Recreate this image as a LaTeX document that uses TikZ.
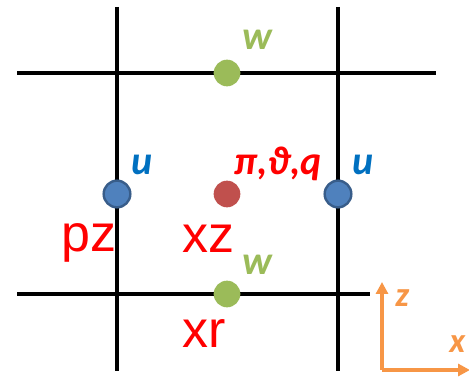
\documentclass[tikz,border=0pt]{standalone}
\usepackage{fontspec}
\setmainfont{Carlito}
\newfontfamily\arialfont{Liberation Sans}
\usetikzlibrary{arrows.meta}
\definecolor{gdot}{HTML}{9BBB59}
\definecolor{bdot}{HTML}{4F81BD}
\definecolor{bdotb}{HTML}{385D8A}
\definecolor{rdot}{HTML}{C0504D}
\definecolor{ulab}{HTML}{0070C0}
\definecolor{rlab}{HTML}{FF0000}
\definecolor{axcol}{HTML}{F79646}
\tikzset{
  grid/.style={line width=3pt, black},
  wdot/.style={circle, fill=gdot, minimum size=20pt, inner sep=0pt},
  udot/.style={circle, fill=bdot, draw=bdotb, line width=1.8pt, minimum size=20pt, inner sep=0pt},
  pdot/.style={circle, fill=rdot, minimum size=20pt, inner sep=0pt},
  varlab/.style={font=\fontsize{30}{32}\selectfont\bfseries\itshape, inner sep=0pt, anchor=base west},
  biglab/.style={font=\arialfont\fontsize{39}{42}\selectfont, text=rlab, inner sep=0pt, anchor=base west},
  axis/.style={line width=2.5pt, axcol, -{Triangle[length=9pt,width=9pt]}},
  axlab/.style={font=\fontsize{26}{28}\selectfont\bfseries\itshape, text=axcol, inner sep=0pt, anchor=base west},
}
\begin{document}
\begin{tikzpicture}[x=0.75pt,y=-0.75pt]
\useasboundingbox (0,0) rectangle (469,377);
% grid line endpoints
\coordinate (v1t) at (117,7);   \coordinate (v1b) at (117,371);
\coordinate (v2t) at (338,7);   \coordinate (v2b) at (338,371);
\coordinate (h1l) at (17,73);   \coordinate (h1r) at (436,73);
\coordinate (h2l) at (17,294);  \coordinate (h2r) at (370,294);
\draw[grid] (v1t) -- (v1b);
\draw[grid] (v2t) -- (v2b);
\draw[grid] (h1l) -- (h1r);
\draw[grid] (h2l) -- (h2r);
% dots
\node[wdot] (wt) at (227,73) {};
\node[wdot] (wb) at (227,294) {};
\node[udot] (ul) at (117,194) {};
\node[udot] (ur) at (338,194) {};
\node[pdot] (pc) at (227,194) {};
% labels
\node[varlab, text=gdot] (wtl) at (242,50) {w};
\node[varlab, text=gdot] (wbl) at (242,275) {w};
\node[varlab, text=ulab] (ull) at (131,175) {u};
\node[varlab, text=ulab] (url) at (352,175) {u};
\node[varlab, text=rlab] (pl) at (234,175) {π,ϑ,q};
\node[biglab] (pz) at (61,252) {pz};
\node[biglab] (xz) at (182,253) {xz};
\node[biglab] (xr) at (182,348) {xr};
% axes
\coordinate (o) at (382,370);
\coordinate (zend) at (382,282);
\coordinate (xend) at (470,370);
\draw[axis] (o) -- (zend);
\draw[axis] (o) -- (xend);
\node[axlab] (zl) at (395,307) {z};
\node[axlab] (xl) at (449,353) {x};
\end{tikzpicture}
\end{document}
